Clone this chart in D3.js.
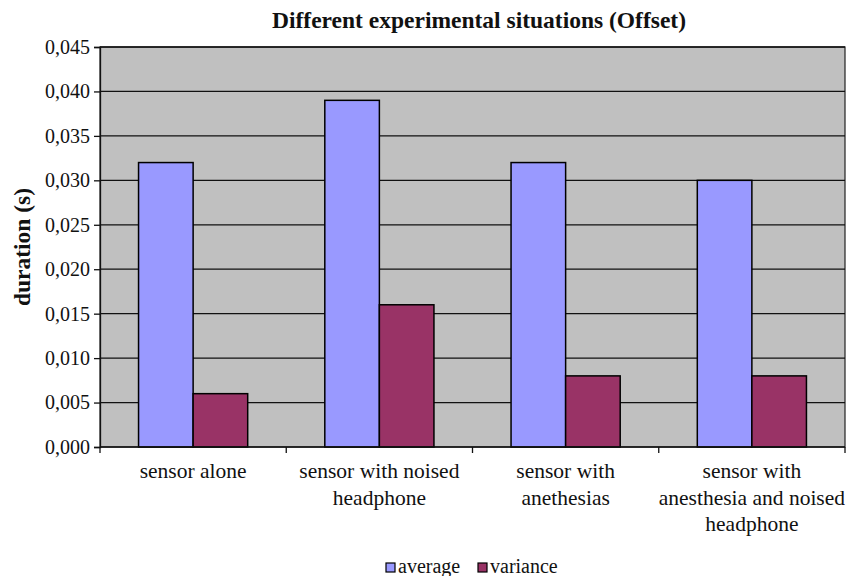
<!DOCTYPE html>
<html>
<head>
<meta charset="utf-8">
<script src="https://cdn.jsdelivr.net/npm/d3@7"></script>
<style>
  html, body { margin: 0; padding: 0; background: #fff; }
  svg text { font-family: "Liberation Serif", "Times New Roman", serif; }
</style>
</head>
<body>
<svg id="chart" width="853" height="576"></svg>
<script>
// Offset durations per experimental situation
const categories = [
  ["sensor alone"],
  ["sensor with noised", "headphone"],
  ["sensor with", "anethesias"],
  ["sensor with", "anesthesia and noised", "headphone"]
];
const seriesNames = ["average", "variance"];
const averageValues = [0.032, 0.039, 0.032, 0.030];
const varianceValues = [0.006, 0.016, 0.008, 0.008];
const yTicks = [0, 0.005, 0.010, 0.015, 0.020, 0.025, 0.030, 0.035, 0.040, 0.045];
const colors = ["#9999FF", "#993366"];

const FONT = "Liberation Serif, Times New Roman, serif";
const svg = d3.select("#chart");
const margin = { left: 100, top: 47 };
const plotW = 845 - margin.left;
const plotH = 447 - margin.top;

const g = svg.append("g").attr("transform", `translate(${margin.left},${margin.top})`);

const x0 = d3.scaleBand().domain(d3.range(categories.length)).range([0, plotW]);
const x1 = d3.scaleBand().domain(seriesNames).range([x0.bandwidth() * 0.207, x0.bandwidth() * 0.793]);
const y = d3.scaleLinear().domain([0, 0.045]).range([plotH, 0]);

// plot area
g.append("rect").attr("x", 0).attr("y", 0).attr("width", plotW).attr("height", plotH)
  .attr("fill", "#C0C0C0").attr("stroke", "#222").attr("stroke-width", 1.2);

// horizontal gridlines
g.selectAll(".grid").data(yTicks.filter(d => d > 0)).enter().append("line")
  .attr("x1", 0).attr("x2", plotW)
  .attr("y1", d => y(d)).attr("y2", d => y(d))
  .attr("stroke", "#111").attr("stroke-width", 1.3);

// bars
const rows = categories.map((c, i) => ({ i, vals: [averageValues[i], varianceValues[i]] }));
const grp = g.selectAll(".grp").data(rows).enter().append("g")
  .attr("transform", d => `translate(${x0(d.i)},0)`);
grp.selectAll("rect").data(d => d.vals.map((v, k) => ({ v, k }))).enter().append("rect")
  .attr("x", d => x1(seriesNames[d.k]))
  .attr("width", x1.bandwidth())
  .attr("y", d => y(d.v))
  .attr("height", d => plotH - y(d.v))
  .attr("fill", d => colors[d.k])
  .attr("stroke", "#000").attr("stroke-width", 1.5);

// y axis
const yAxis = d3.axisLeft(y).tickValues(yTicks).tickSize(6).tickPadding(4)
  .tickFormat(d => d3.format(".3f")(d).replace(".", ","));
const ya = g.append("g").call(yAxis).attr("font-family", FONT).attr("font-size", 20);
ya.select(".domain").attr("stroke", "#111").attr("stroke-width", 1.3);
ya.selectAll(".tick line").attr("stroke", "#111").attr("stroke-width", 1.3);
ya.selectAll(".tick text").attr("fill", "#111");

// x axis with boundary ticks
const xa = g.append("g").attr("transform", `translate(0,${plotH})`);
xa.append("line").attr("x1", 0).attr("x2", plotW).attr("y1", 0).attr("y2", 0)
  .attr("stroke", "#111").attr("stroke-width", 1.3);
xa.selectAll(".xt").data(d3.range(categories.length + 1)).enter().append("line")
  .attr("x1", d => d * x0.step()).attr("x2", d => d * x0.step())
  .attr("y1", 0).attr("y2", 6).attr("stroke", "#111").attr("stroke-width", 1.3);
xa.selectAll(".xl").data(categories).enter().append("text")
  .attr("x", (d, i) => x0(i) + x0.bandwidth() / 2)
  .attr("y", 31)
  .attr("text-anchor", "middle").attr("font-size", 21.5).attr("font-family", FONT).attr("fill", "#111")
  .selectAll("tspan").data(d => d).enter().append("tspan")
  .attr("x", function () { return d3.select(this.parentNode).attr("x"); })
  .attr("dy", (d, i) => i === 0 ? 0 : 26.5)
  .text(d => d);

// title
svg.append("text").attr("x", 479).attr("y", 28).attr("text-anchor", "middle")
  .attr("font-size", 23.5).attr("font-weight", "bold").attr("font-family", FONT).attr("fill", "#111")
  .text("Different experimental situations (Offset)");

// y axis title
svg.append("text").attr("transform", `translate(30,${margin.top + plotH / 2}) rotate(-90)`)
  .attr("text-anchor", "middle").attr("font-size", 23.5).attr("font-weight", "bold")
  .attr("font-family", FONT).attr("fill", "#111")
  .text("duration (s)");

// legend
const legend = svg.append("g").attr("transform", "translate(386,563)");
const legendX = [0, 92];
seriesNames.forEach((name, k) => {
  const lg = legend.append("g").attr("transform", `translate(${legendX[k]},0)`);
  lg.append("rect").attr("width", 9).attr("height", 9).attr("fill", colors[k])
    .attr("stroke", "#000").attr("stroke-width", 1.2);
  lg.append("text").attr("x", 12).attr("y", 9.5).attr("font-size", 20)
    .attr("font-family", FONT).attr("fill", "#111").text(name);
});
</script>
</body>
</html>
